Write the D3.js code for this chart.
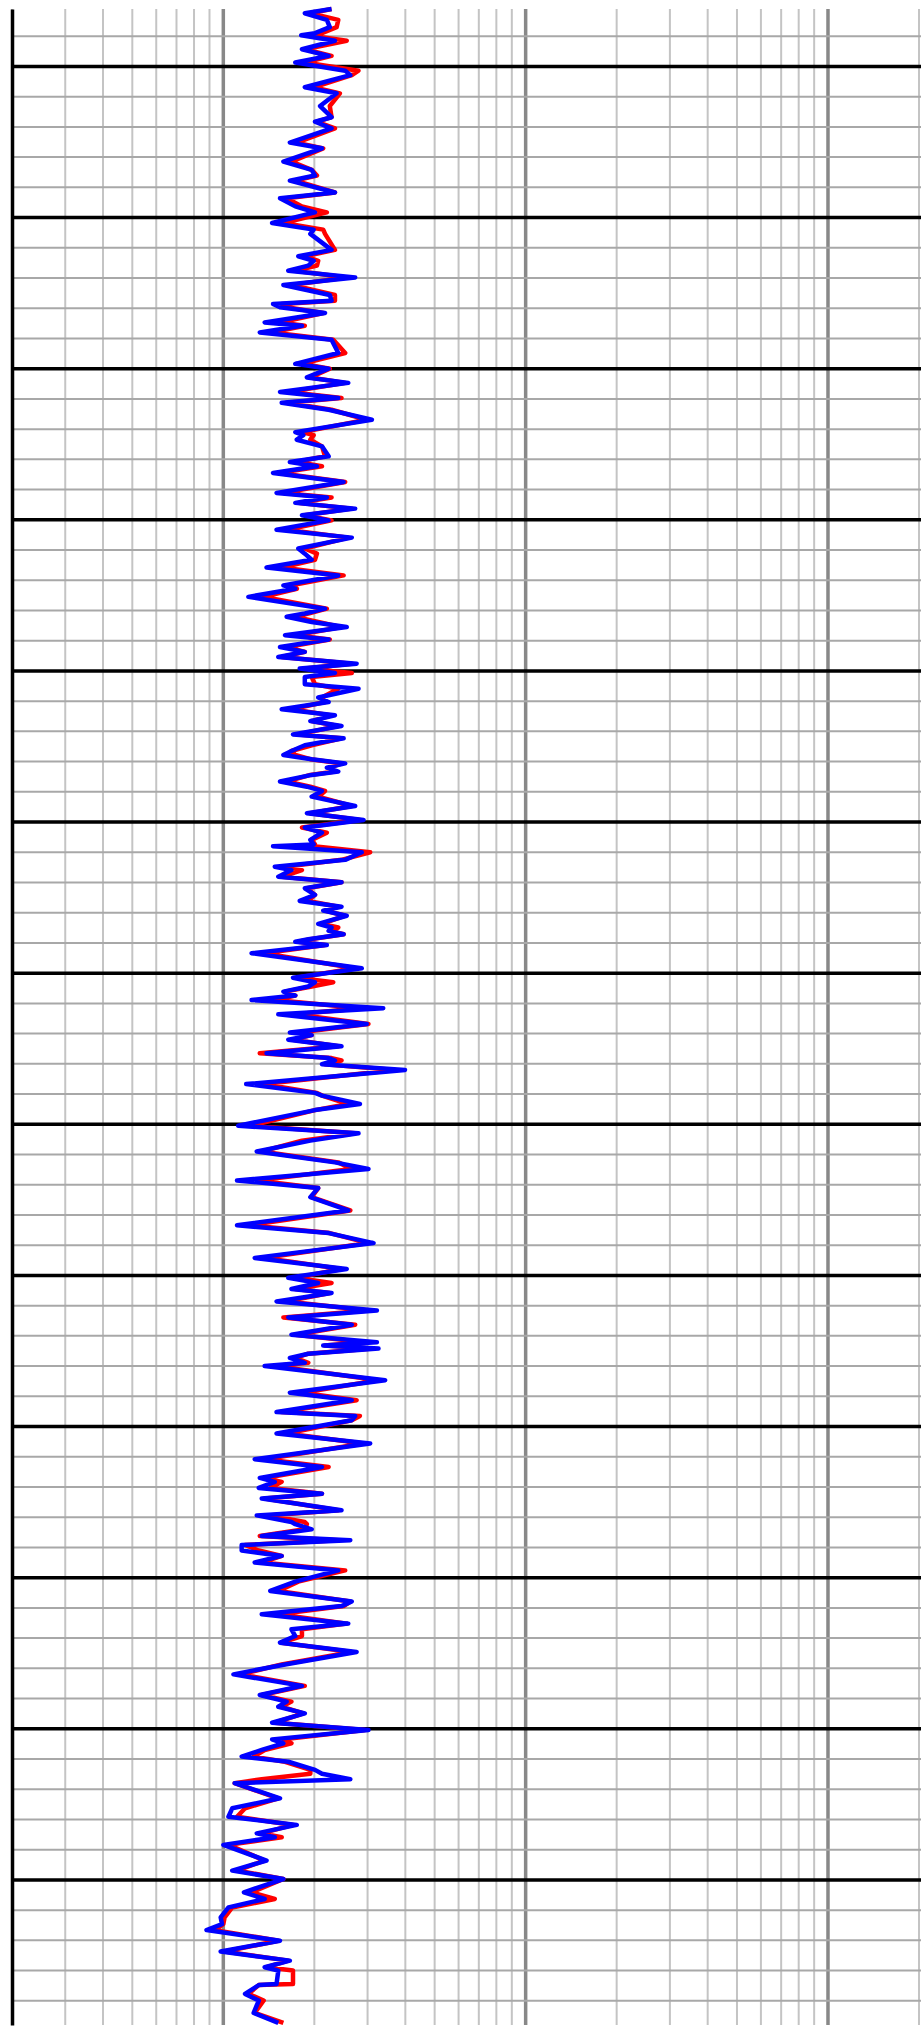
<!DOCTYPE html>
<html>
<head>
<meta charset="utf-8">
<script src="https://cdn.jsdelivr.net/npm/d3@7"></script>
<style>
html,body{margin:0;padding:0;background:#fff;}
svg{display:block;}
</style>
</head>
<body>
<div id="chart"></div>
<script>
// Depth samples (shared by both curves)
const depth = [
981.0,982.4,984.6,987.0,989.0,989.7,991.5,994.3,996.5,998.7,1001.4,1002.9,1006.9,1008.9,1013.1,1016.8,1018.3,1020.5,1025.2,1027.1,1031.5,1034.2,
1036.1,1037.8,1041.7,1043.6,1046.3,1048.3,1051.8,1054.0,1055.4,1060.7,1062.8,1064.3,1065.9,1067.6,1069.8,1072.3,1075.6,1077.5,1078.6,1079.7,1081.6,1084.7,1085.8,1088.0,1090.4,
1094.8,1098.4,1100.0,1102.9,1104.7,1107.7,1109.7,1111.3,1113.6,1116.9,1121.0,1122.0,1123.5,1125.7,1129.0,1130.9,1132.3,1134.5,1137.5,1141.1,1142.6,1144.4,1146.3,
1148.5,1150.2,1153.3,1155.9,1159.5,1161.2,1163.2,1165.8,1168.4,1171.7,1172.8,1175.5,1179.4,1181.0,1182.1,1183.8,1185.5,1188.2,1189.6,1192.1,1193.7,1195.4,1197.6,1199.2,1200.7,1202.0,
1204.4,1205.9,1208.8,1210.3,1212.7,1214.7,1216.6,1218.2,1221.0,1222.3,1224.6,1226.5,1227.8,1229.2,1230.6,1232.0,1233.3,1234.4,1236.6,1238.3,1239.7,1241.6,1244.7,1247.1,1249.3,1251.8,1253.5,1255.9,1257.4,1258.0,
1260.0,1262.5,1264.8,1265.9,1268.1,1269.9,1271.9,1274.1,1276.1,1278.0,1279.3,1281.0,1283.7,1284.9,1286.0,1287.1,1288.8,1289.6,1290.7,1293.4,1298.4,1301.5,1303.0,1304.4,1306.1,1307.4,1308.9,1311.6,1313.6,
1316.8,1319.6,1320.5,1322.0,1324.2,1326.5,1328.1,1328.9,1330.1,1332.0,1336.7,1339.6,1340.5,1343.3,1345.3,1350.5,1353.0,1355.4,1359.0,1362.6,1364.8,1368.6,
1371.1,1374.1,1378.5,1383.4,1386.0,1389.3,1394.2,1397.9,1400.8,1402.5,1404.5,1405.8,1408.6,1411.6,1413.9,1416.3,1419.6,1422.1,1423.2,1424.2,1425.9,
1427.3,1428.9,1430.0,1434.7,1438.8,1441.3,1445.2,1446.5,1447.9,1452.3,1455.6,1460.8,1463.4,1467.0,1468.3,1470.3,1472.2,1473.8,1477.7,1479.4,1481.6,
1482.3,1484.0,1486.2,1487.6,1489.2,1491.0,1492.8,1495.0,1497.6,1501.3,1504.4,1507.9,1509.4,1512.1,1515.2,1517.1,1519.3,1521.5,1524.6,1528.7,1532.0,1535.8,
1538.8,1541.0,1542.7,1544.9,1548.0,1550.4,1553.5,1554.8,1557.0,1559.2,1560.9,1563.6,1564.9,1566.7,1568.0,1573.0,1576.3,1579.1,1581.8,1584.6,1585.9,1588.4,1593.6,
1596.9,1599.7,1604.1,1606.3,1609.1,1612.4,1614.6,1616.6,1620.1,1623.7,1626.7,1628.9,1630.0,1634.4,1634.8,1637.7,1639.9,1644.0,1647.3
];

// Red curve values
const redValues = [
2.28,1.94,2.40,2.37,2.12,1.91,2.56,1.86,2.28,1.86,2.80,2.66,1.99,2.43,2.25,2.28,2.04,2.34,1.75,2.14,1.68,1.96,
2.04,1.73,2.34,1.62,1.82,2.20,1.58,2.14,2.17,2.34,1.86,2.06,2.04,1.73,2.56,1.68,2.34,2.34,1.56,1.62,2.14,1.54,1.86,1.45,2.31,
2.53,1.82,2.25,1.94,2.53,1.64,2.46,1.62,2.28,2.98,1.82,1.99,1.94,2.12,2.17,1.75,2.12,1.52,2.53,1.58,2.28,1.77,2.66,
1.86,2.28,1.62,2.59,1.86,2.04,2.01,1.56,2.50,1.68,1.75,1.36,2.20,1.91,1.73,2.06,2.46,1.73,2.25,1.62,1.86,1.56,2.66,1.86,2.66,1.96,
2.01,2.40,2.12,2.17,1.68,2.28,1.96,2.40,1.77,2.46,1.96,1.68,1.73,1.94,2.46,2.25,2.34,1.94,1.62,1.94,2.17,2.06,2.66,1.94,2.83,1.82,2.20,1.96,2.01,1.99,
3.06,2.46,1.60,1.82,1.56,2.46,1.89,2.01,1.91,2.40,2.17,2.53,2.12,2.40,2.25,2.50,1.94,1.77,2.17,1.36,2.73,1.75,2.31,1.96,1.60,1.73,1.48,2.87,1.73,
3.02,1.77,1.96,1.70,2.40,1.32,2.28,2.46,2.17,3.70,1.36,2.04,2.12,2.59,2.01,1.23,2.73,1.82,1.34,2.40,2.66,1.29,
2.06,1.96,2.63,1.21,2.25,3.02,1.37,2.46,1.73,2.28,1.73,2.25,1.62,3.02,1.58,2.73,1.73,2.94,2.17,3.10,1.91,
1.73,1.91,1.48,3.26,1.82,2.76,1.56,2.83,2.66,1.62,2.91,1.37,2.23,1.37,1.56,1.43,2.12,1.37,2.40,1.41,1.86,
1.89,1.86,1.32,2.40,1.18,1.31,1.56,1.34,2.53,1.77,1.52,2.63,2.50,1.52,2.56,1.82,1.82,1.56,2.66,1.56,1.14,1.86,
1.34,1.68,1.56,1.84,1.48,2.94,1.58,1.68,1.37,1.26,1.60,1.94,1.94,1.34,1.09,1.52,1.18,1.11,1.70,1.34,1.56,1.04,1.37,
1.11,1.58,1.24,1.48,1.07,1.01,1.00,0.94,1.52,1.01,1.64,1.39,1.70,1.70,1.31,1.21,1.36,1.27,1.58
];

// Blue curve values
const blueValues = [
2.28,1.86,2.20,2.25,2.01,1.81,2.34,1.82,2.23,1.73,2.53,2.63,1.86,2.37,2.09,2.28,2.01,2.28,1.66,2.12,1.58,1.96,
2.01,1.66,2.34,1.54,1.73,2.01,1.45,1.99,1.94,2.28,1.77,1.99,1.91,1.64,2.73,1.58,2.25,2.28,1.46,1.54,2.17,1.37,1.82,1.32,2.28,
2.40,1.73,2.23,1.89,2.59,1.54,2.40,1.56,2.23,3.10,1.73,1.84,1.75,2.12,2.23,1.66,2.04,1.46,2.50,1.50,2.20,1.73,2.73,
1.82,2.23,1.50,2.66,1.77,1.86,1.96,1.39,2.40,1.58,1.73,1.21,2.17,1.86,1.62,1.96,2.56,1.60,2.23,1.54,1.86,1.52,2.76,1.79,2.34,1.86,
1.86,2.80,2.06,2.23,1.56,2.34,1.94,2.46,1.70,2.50,1.86,1.68,1.58,1.96,2.53,2.20,2.40,1.96,1.54,1.89,2.12,1.96,2.73,1.89,2.91,1.86,2.12,1.94,1.99,1.46,
2.87,2.53,1.48,1.68,1.52,2.46,1.86,2.01,1.79,2.46,2.14,2.56,2.06,2.28,2.23,2.50,1.91,1.73,2.20,1.24,2.87,1.70,2.01,1.91,1.58,1.73,1.24,3.38,1.52,
2.98,1.66,1.96,1.64,2.46,1.39,2.23,2.34,2.12,3.99,1.19,2.01,2.12,2.83,2.01,1.12,2.80,1.94,1.29,2.34,3.02,1.11,
2.06,1.94,2.59,1.11,2.23,3.14,1.27,2.56,1.64,2.06,1.68,2.28,1.50,3.22,1.64,2.66,1.68,3.22,2.14,3.26,1.91,
1.66,1.86,1.37,3.43,1.66,2.66,1.50,2.73,2.66,1.50,3.06,1.27,2.12,1.32,1.48,1.31,2.12,1.34,2.46,1.29,1.68,
1.73,1.96,1.34,2.63,1.15,1.15,1.56,1.27,2.40,1.73,1.43,2.66,2.46,1.34,2.59,1.68,1.73,1.54,2.76,1.60,1.08,1.82,
1.32,1.62,1.52,1.86,1.45,3.02,1.45,1.58,1.34,1.15,1.64,2.01,2.12,2.63,1.09,1.54,1.07,1.04,1.75,1.29,1.48,1.00,1.39,
1.07,1.58,1.17,1.37,1.04,0.98,0.99,0.88,1.54,0.98,1.66,1.37,1.52,1.50,1.31,1.18,1.31,1.26,1.52
];

// Axis domains
const valueDomain = [0.2, 200];
const depthDomain = [981, 1648];

(function () {
  const W = 921, H = 2028;
  const mL = 12, mR = 919, mT = 9, mB = 2025;

  const svg = d3.select("#chart").append("svg")
    .attr("width", W).attr("height", H)
    .style("background", "#fff");

  const x = d3.scaleLog().domain(valueDomain).range([mL, mR]);
  const y = d3.scaleLinear().domain(depthDomain).range([mT, mB]);

  // vertical log grid
  const xt = x.ticks();
  const isMajorX = v => Math.abs(Math.log10(v) - Math.round(Math.log10(v))) < 1e-9;
  svg.append("g").selectAll("line").data(xt.filter(v => !isMajorX(v))).join("line")
    .attr("x1", d => x(d)).attr("x2", d => x(d))
    .attr("y1", mT).attr("y2", mB)
    .attr("stroke", "#c4c4c4").attr("stroke-width", 2);
  svg.append("g").selectAll("line").data(xt.filter(isMajorX)).join("line")
    .attr("x1", d => x(d)).attr("x2", d => x(d))
    .attr("y1", mT).attr("y2", mB)
    .attr("stroke", "#888").attr("stroke-width", 3.5);

  // horizontal depth grid
  const yt = d3.range(990, 1648, 10);
  svg.append("g").selectAll("line").data(yt.filter(d => d % 50 !== 0)).join("line")
    .attr("x1", mL).attr("x2", W)
    .attr("y1", d => y(d)).attr("y2", d => y(d))
    .attr("stroke", "#a8a8a8").attr("stroke-width", 2);
  svg.append("g").selectAll("line").data(yt.filter(d => d % 50 === 0)).join("line")
    .attr("x1", mL).attr("x2", W)
    .attr("y1", d => y(d)).attr("y2", d => y(d))
    .attr("stroke", "#000").attr("stroke-width", 3.5);

  // left axis line
  const ax = svg.append("g").attr("transform", `translate(${mL},0)`)
    .call(d3.axisLeft(y).ticks(0).tickSizeOuter(0));
  ax.select(".domain").attr("stroke", "#000").attr("stroke-width", 3.5);

  // curves
  const n = Math.min(depth.length, redValues.length, blueValues.length);
  const pts = depth.slice(0, n).map((d, i) => ({d, r: redValues[i], b: blueValues[i]}));
  const lineRed = d3.line().x(p => x(p.r)).y(p => y(p.d));
  const lineBlue = d3.line().x(p => x(p.b)).y(p => y(p.d));
  svg.append("path").datum(pts).attr("d", lineRed)
    .attr("fill", "none").attr("stroke", "#ff0000").attr("stroke-width", 4.5).attr("stroke-linejoin", "round");
  svg.append("path").datum(pts).attr("d", lineBlue)
    .attr("fill", "none").attr("stroke", "#0000ff").attr("stroke-width", 4.5).attr("stroke-linejoin", "round");
})();
</script>
</body>
</html>
